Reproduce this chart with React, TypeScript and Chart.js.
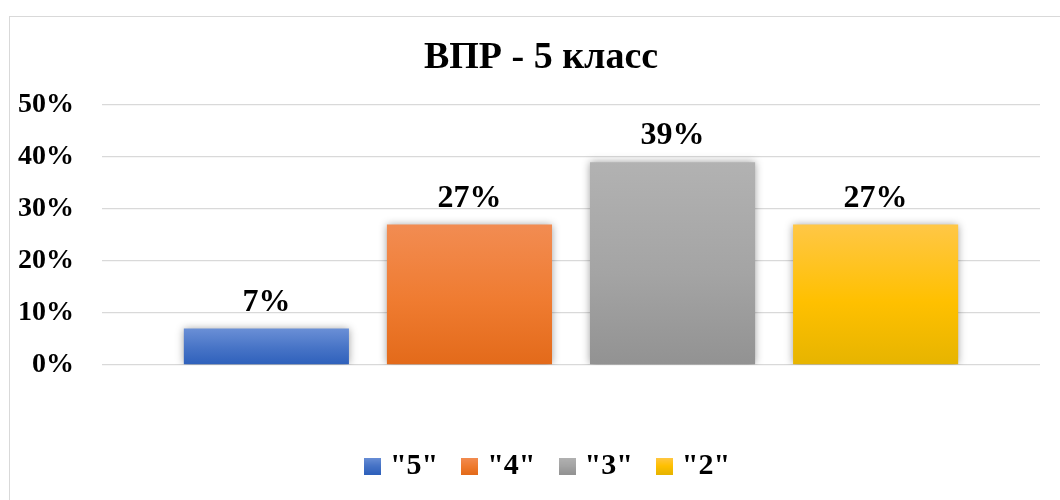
import { useEffect, useRef } from 'react';
import { Chart, registerables } from 'chart.js';

Chart.register(...registerables);

const titleText = 'ВПР - 5 класс';
const categories = ['ВПР - 5 класс'];
const seriesLabels = ['"5"', '"4"', '"3"', '"2"'];
const seriesValues = [7, 27, 39, 27];
const yTickValues = [0, 10, 20, 30, 40, 50];
const seriesGradients = [
  ['#6a8fd6', '#4673c6', '#2e60bb'],
  ['#f28c52', '#ef7b30', '#e36a1a'],
  ['#b2b2b2', '#a4a4a4', '#929292'],
  ['#ffc746', '#ffc000', '#e6b400'],
];

const FONT = '"Liberation Serif", "Times New Roman", serif';
const CANVAS_W = 1082;
const CANVAS_H = 500;

function makeSwatch(stops: string[]) {
  const c = document.createElement('canvas');
  c.width = 17;
  c.height = 17;
  const g = c.getContext('2d')!;
  const grad = g.createLinearGradient(0, 0, 0, 17);
  grad.addColorStop(0, stops[0]);
  grad.addColorStop(0.5, stops[1]);
  grad.addColorStop(1, stops[2]);
  g.fillStyle = grad;
  g.fillRect(0, 0, 17, 17);
  return c;
}

const barEffects = {
  id: 'barEffects',
  afterLayout(chart: any) {
    if (chart.legend) {
      chart.legend.left += 9;
      chart.legend.right += 9;
    }
  },
  beforeDatasetsDraw(chart: any) {
    const ctx = chart.ctx;
    ctx.save();
    ctx.shadowColor = 'rgba(0,0,0,0.38)';
    ctx.shadowBlur = 8;
    ctx.shadowOffsetX = 0;
    ctx.shadowOffsetY = 0;
  },
  afterDatasetsDraw(chart: any) {
    const ctx = chart.ctx;
    ctx.restore();
    ctx.save();
    ctx.font = `bold 32px ${FONT}`;
    ctx.fillStyle = '#000';
    ctx.textAlign = 'center';
    ctx.textBaseline = 'alphabetic';
    chart.data.datasets.forEach((ds: any, i: number) => {
      const meta = chart.getDatasetMeta(i);
      meta.data.forEach((bar: any, j: number) => {
        const v = ds.data[j];
        ctx.fillText(`${v}%`, bar.x, bar.y - 18);
      });
    });
    ctx.restore();
  },
};

export default function App() {
  const ref = useRef<HTMLCanvasElement>(null);

  useEffect(() => {
    if (!ref.current) return;
    const swatches = seriesGradients.map(makeSwatch);
    const chart = new Chart(ref.current, {
      type: 'bar',
      data: {
        labels: categories,
        datasets: seriesLabels.map((label, i) => ({
          label,
          data: [seriesValues[i]],
          backgroundColor: (c: any) => {
            const stops = seriesGradients[i];
            const { chart: ch } = c;
            if (!ch.chartArea || !ch.scales?.y) return stops[1];
            const y = ch.scales.y;
            const top = y.getPixelForValue(seriesValues[i]);
            const bottom = y.getPixelForValue(0);
            const grad = ch.ctx.createLinearGradient(0, top, 0, bottom);
            grad.addColorStop(0, stops[0]);
            grad.addColorStop(0.55, stops[1]);
            grad.addColorStop(1, stops[2]);
            return grad;
          },
          borderWidth: 0,
          categoryPercentage: 0.866,
          barPercentage: 0.813,
        })),
      },
      options: {
        responsive: false,
        animation: false,
        devicePixelRatio: 1,
        color: '#000',
        layout: { padding: { left: 0, right: 0, top: 0, bottom: 9 } },
        scales: {
          x: {
            ticks: { display: false },
            grid: { display: false },
            border: { display: false },
            afterFit: (scale: any) => {
              scale.height = 57;
            },
          },
          y: {
            min: 0,
            max: 50,
            afterBuildTicks: (scale: any) => {
              scale.ticks = yTickValues.map((v) => ({ value: v }));
            },
            afterFit: (scale: any) => {
              scale.width = 102;
            },
            ticks: {
              padding: 28,
              color: '#000',
              font: { family: FONT, size: 28, weight: 'bold' },
              callback: (v: any) => `${v}%`,
            },
            grid: { color: '#d9d9d9', lineWidth: 1.3, drawTicks: false },
            border: { display: false },
          },
          y2: {
            position: 'right',
            display: true,
            ticks: { display: false },
            grid: { display: false },
            border: { display: false },
            afterFit: (scale: any) => {
              scale.width = 42;
            },
          },
        },
        plugins: {
          title: {
            display: true,
            text: titleText,
            color: '#000',
            font: { family: FONT, size: 38, weight: 'bold', lineHeight: 1.2 },
            padding: { top: 35.7, bottom: 23.7 },
          },
          legend: {
            position: 'bottom',
            labels: {
              color: '#000',
              font: { family: FONT, size: 30, weight: 'bold' },
              usePointStyle: true,
              pointStyleWidth: 5,
              padding: 29,
              generateLabels: (ch: any) => {
                const items = Chart.defaults.plugins.legend.labels.generateLabels(ch);
                return items.map((it: any, k: number) => ({ ...it, pointStyle: swatches[k] }));
              },
            },
          },
          tooltip: { enabled: false },
        },
      },
      plugins: [barEffects],
    } as any);
    return () => chart.destroy();
  }, []);

  return (
    <div
      style={{
        position: 'fixed',
        left: 0,
        top: 0,
        width: 1060,
        height: 500,
        overflow: 'hidden',
        background: '#fff',
      }}
    >
      <div
        style={{
          position: 'absolute',
          left: 9,
          top: 16,
          width: 1200,
          height: 700,
          border: '1px solid #d9d9d9',
          boxSizing: 'border-box',
        }}
      />
      <canvas
        ref={ref}
        width={CANVAS_W}
        height={CANVAS_H}
        style={{ position: 'absolute', left: 0, top: 0, width: CANVAS_W, height: CANVAS_H }}
      />
    </div>
  );
}
